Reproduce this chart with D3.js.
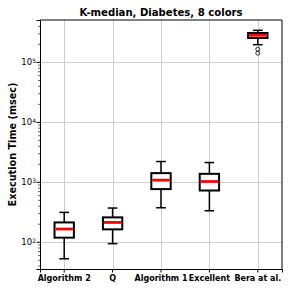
<!DOCTYPE html>
<html>
<head>
<meta charset="utf-8">
<script src="https://cdn.jsdelivr.net/npm/d3@7"></script>
<style>
  body { margin: 0; background: #fff; }
  text { font-family: "DejaVu Sans", sans-serif; }
</style>
</head>
<body>
<div id="chart"></div>
<script>
// chart data
var categories = ["Algorithm 2", "Q", "Algorithm 1", "Excellent", "Bera at al."];
var whiskerLow = [52, 93, 369, 329, 194000];
var q1 = [117, 161, 756, 716, 251000];
var medians = [163, 210, 1067, 1012, 279000];
var q3 = [210, 255, 1396, 1359, 304000];
var whiskerHigh = [309, 365, 2180, 2097, 337000];
var fliers = [[], [], [], [], [163000, 140000]];
var yTicks = [100, 1000, 10000, 100000];

var margin = {top: 20, right: 9, bottom: 22, left: 40},
    width = 291 - margin.left - margin.right,
    height = 291 - margin.top - margin.bottom;

var svg = d3.select("#chart")
  .append("svg")
    .attr("width", 291)
    .attr("height", 291)
  .append("g")
    .attr("transform", "translate(" + margin.left + "," + margin.top + ")");

var x = d3.scaleBand()
  .domain(categories)
  .range([0, width]);

var y = d3.scaleLog()
  .domain([35.1, 501000])
  .range([height, 0]);

var boxW = x.bandwidth() * 0.4;

// grid
svg.selectAll(".vgrid")
  .data(categories)
  .enter()
  .append("line")
    .attr("x1", function(d) { return Math.round(x(d) + x.bandwidth() / 2) + 0.5; })
    .attr("x2", function(d) { return Math.round(x(d) + x.bandwidth() / 2) + 0.5; })
    .attr("y1", 0)
    .attr("y2", height)
    .attr("stroke", "#cfcfcf")
    .attr("stroke-width", 1);

svg.selectAll(".hgrid")
  .data(yTicks)
  .enter()
  .append("line")
    .attr("x1", 0)
    .attr("x2", width)
    .attr("y1", function(d) { return Math.round(y(d)) + 0.5; })
    .attr("y2", function(d) { return Math.round(y(d)) + 0.5; })
    .attr("stroke", "#cfcfcf")
    .attr("stroke-width", 1);

// minor ticks
var minor = [];
for (var e = 1; e <= 5; e++) {
  for (var m = 2; m <= 9; m++) {
    var v = m * Math.pow(10, e);
    if (v > 35.1 && v < 501000) minor.push(v);
  }
}
svg.append("g")
  .call(d3.axisLeft(y).tickValues(minor).tickSize(2).tickFormat(""))
  .call(function(g) { g.select(".domain").remove(); })
  .selectAll("line").attr("stroke", "#000").attr("stroke-width", 0.6);

// y axis
var yAxis = svg.append("g")
  .call(d3.axisLeft(y).tickValues(yTicks).tickSize(3.5).tickFormat(""));
yAxis.select(".domain").attr("stroke-width", 1);
yAxis.selectAll(".tick").append("text")
  .attr("x", -4)
  .attr("dy", "0.35em")
  .attr("fill", "#000")
  .attr("text-anchor", "end")
  .attr("font-family", "DejaVu Sans")
  .attr("font-size", 8.5)
  .each(function(d) {
    var t = d3.select(this);
    t.append("tspan").text("10");
    t.append("tspan").attr("dy", "-0.45em").attr("font-size", 6).text(Math.round(Math.log10(d)));
  });

// x axis
var xAxis = svg.append("g")
  .attr("transform", "translate(0," + height + ")")
  .call(d3.axisBottom(x).tickSize(3.5).tickPadding(2.5));
xAxis.selectAll("text")
  .attr("font-family", "DejaVu Sans")
  .attr("font-size", 8)
  .attr("font-weight", "bold")
  .attr("fill", "#000");

// right and top frame
svg.append("line").attr("x1", width).attr("x2", width).attr("y1", 0).attr("y2", height).attr("stroke", "#000");
svg.append("line").attr("x1", 0).attr("x2", width).attr("y1", 0).attr("y2", 0).attr("stroke", "#000");

// boxes
var boxes = svg.selectAll(".box")
  .data(categories)
  .enter()
  .append("g")
    .attr("transform", function(d) { return "translate(" + (x(d) + x.bandwidth() / 2) + ",0)"; });

boxes.append("line")
  .attr("y1", function(d, i) { return y(whiskerHigh[i]); })
  .attr("y2", function(d, i) { return y(q3[i]); })
  .attr("stroke", "#000").attr("stroke-width", 1.5);
boxes.append("line")
  .attr("y1", function(d, i) { return y(q1[i]); })
  .attr("y2", function(d, i) { return y(whiskerLow[i]); })
  .attr("stroke", "#000").attr("stroke-width", 1.5);
boxes.append("line")
  .attr("x1", -boxW / 4).attr("x2", boxW / 4)
  .attr("y1", function(d, i) { return y(whiskerHigh[i]); })
  .attr("y2", function(d, i) { return y(whiskerHigh[i]); })
  .attr("stroke", "#000").attr("stroke-width", 1.5);
boxes.append("line")
  .attr("x1", -boxW / 4).attr("x2", boxW / 4)
  .attr("y1", function(d, i) { return y(whiskerLow[i]); })
  .attr("y2", function(d, i) { return y(whiskerLow[i]); })
  .attr("stroke", "#000").attr("stroke-width", 1.5);

boxes.append("rect")
  .attr("x", -boxW / 2)
  .attr("width", boxW)
  .attr("y", function(d, i) { return y(q3[i]); })
  .attr("height", function(d, i) { return y(q1[i]) - y(q3[i]); })
  .attr("fill", "#fff")
  .attr("stroke", "#000")
  .attr("stroke-width", 2);

boxes.append("line")
  .attr("x1", -boxW / 2 + 1).attr("x2", boxW / 2 - 1)
  .attr("y1", function(d, i) { return y(medians[i]); })
  .attr("y2", function(d, i) { return y(medians[i]); })
  .attr("stroke", "#ff0000").attr("stroke-width", 2.8);

boxes.selectAll("circle")
  .data(function(d, i) { return fliers[i]; })
  .enter()
  .append("circle")
    .attr("cy", function(d) { return y(d); })
    .attr("r", 2)
    .attr("fill", "none")
    .attr("stroke", "#000")
    .attr("stroke-width", 0.8);

// title and label
svg.append("text")
  .attr("x", width / 2)
  .attr("y", -4.5)
  .attr("text-anchor", "middle")
  .attr("font-family", "DejaVu Sans")
  .attr("font-size", 10.1)
  .attr("font-weight", "bold")
  .text("K-median, Diabetes, 8 colors");

svg.append("text")
  .attr("transform", "translate(" + (-24) + "," + (height / 2) + ") rotate(-90)")
  .attr("text-anchor", "middle")
  .attr("font-family", "DejaVu Sans")
  .attr("font-size", 9.7)
  .attr("font-weight", "bold")
  .text("Execution Time (msec)");
</script>
</body>
</html>
